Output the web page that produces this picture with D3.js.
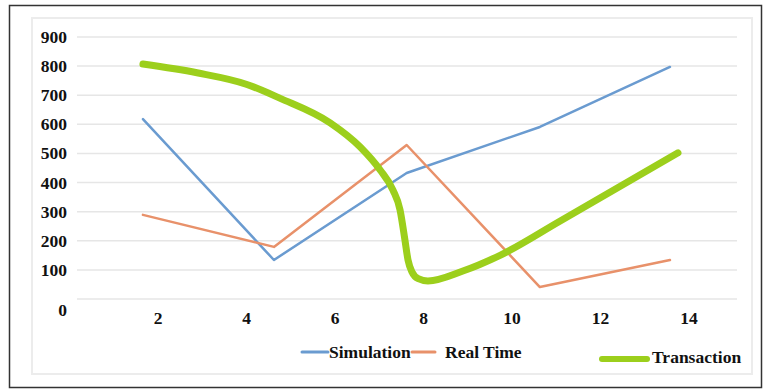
<!DOCTYPE html>
<html><head><meta charset="utf-8">
<script src="https://cdn.jsdelivr.net/npm/d3@7/dist/d3.min.js"></script>
<style>html,body{margin:0;padding:0;background:#fff;}svg{display:block;}
text{font-family:"Liberation Serif","Tinos","DejaVu Serif","Times New Roman",serif;font-weight:bold;font-size:17.5px;fill:#111;}</style>
</head><body>
<svg id="c" width="766" height="390"></svg>
<script>
// ---- data ----
const xTicks = [2, 4, 6, 8, 10, 12, 14];
const yTicks = [0, 100, 200, 300, 400, 500, 600, 700, 800, 900];
const pointX = [1.66, 4.62, 7.62, 10.63, 13.57];
const simulation = [618, 134, 433, 591, 797];
const realTime = [289, 179, 529, 41, 134];
const transactionX = [1.66, 2.88, 4.01, 4.75, 5.89, 6.57, 7.02, 7.31, 7.47, 7.58, 7.65, 7.74, 7.88, 8.10, 8.89, 9.73, 11.09, 13.75];
const transactionY = [807, 777, 737, 690, 605, 522, 443, 374, 306, 203, 134, 93, 70, 62, 96, 150, 268, 502];
const seriesNames = ["Simulation", "Real Time", "Transaction"];

const svg = d3.select("#c");

// frames
svg.append("rect").attr("x", 9.5).attr("y", 5.5).attr("width", 752).attr("height", 382)
  .attr("fill", "#fff").attr("stroke", "#333").attr("stroke-width", 1.5);
svg.append("rect").attr("x", 32).attr("y", 18).attr("width", 720).attr("height", 356)
  .attr("fill", "#fff").attr("stroke", "#ececec").attr("stroke-width", 2);

const x = d3.scaleLinear().domain([2, 14]).range([158, 689]);
const y = d3.scaleLinear().domain([0, 900]).range([299, 37]);

// gridlines
svg.append("g").selectAll("line").data(yTicks).join("line")
  .attr("x1", 77).attr("x2", 737)
  .attr("y1", d => y(d)).attr("y2", d => y(d))
  .attr("stroke", "#e6e6e6").attr("stroke-width", 1.5);

// y labels
svg.append("g").selectAll("text").data(yTicks).join("text")
  .attr("x", 67).attr("y", d => y(d) + (d === 0 ? 11 : 0))
  .attr("text-anchor", "end").attr("dominant-baseline", "central")
  .text(d => d);

// x labels
svg.append("g").selectAll("text").data(xTicks).join("text")
  .attr("x", d => x(d)).attr("y", 318)
  .attr("text-anchor", "middle").attr("dominant-baseline", "central")
  .text(d => d);

const line = d3.line().x(d => x(d[0])).y(d => y(d[1]));
const smooth = d3.line().x(d => x(d[0])).y(d => y(d[1])).curve(d3.curveMonotoneX);

const colors = ["#6a9bd0", "#e8916a", "#9ccf1c"];

svg.append("path").datum(pointX.map((v, i) => [v, simulation[i]]))
  .attr("d", line).attr("fill", "none").attr("stroke", colors[0])
  .attr("stroke-width", 2.5).attr("stroke-linejoin", "round").attr("stroke-linecap", "round");
svg.append("path").datum(pointX.map((v, i) => [v, realTime[i]]))
  .attr("d", line).attr("fill", "none").attr("stroke", colors[1])
  .attr("stroke-width", 2.5).attr("stroke-linejoin", "round").attr("stroke-linecap", "round");
svg.append("path").datum(transactionX.map((v, i) => [v, transactionY[i]]))
  .attr("d", smooth).attr("fill", "none").attr("stroke", colors[2])
  .attr("stroke-width", 7).attr("stroke-linejoin", "round").attr("stroke-linecap", "round");

// legend
const legend = [
  {x1: 302, x2: 328, y: 352, tx: 329, ty: 352, w: 3},
  {x1: 412, x2: 435, y: 352, tx: 445, ty: 352, w: 3},
  {x1: 602, x2: 647, y: 359, tx: 652, ty: 357, w: 6}
];
const lg = svg.append("g");
legend.forEach((l, i) => {
  lg.append("line").attr("x1", l.x1).attr("x2", l.x2).attr("y1", l.y).attr("y2", l.y)
    .attr("stroke", colors[i]).attr("stroke-width", l.w).attr("stroke-linecap", "round");
  lg.append("text").attr("x", l.tx).attr("y", l.ty).attr("dominant-baseline", "central")
    .text(seriesNames[i]);
});
</script>
</body></html>
